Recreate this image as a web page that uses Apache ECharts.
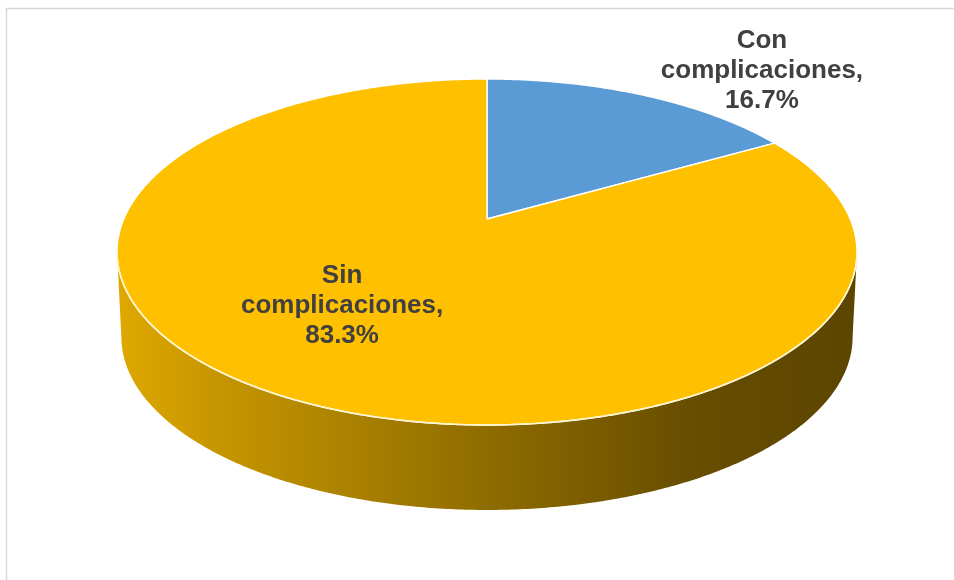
<!DOCTYPE html>
<html>
<head>
<meta charset="utf-8">
<script src="https://cdn.jsdelivr.net/npm/echarts@6/dist/echarts.min.js"></script>
<style>
  html, body { margin: 0; padding: 0; background: #ffffff; }
  #chart { width: 954px; height: 580px; }
</style>
</head>
<body>
<div id="chart"></div>
<script>
// Data
const categories = ['Con complicaciones', 'Sin complicaciones'];
const shares = [16.7, 83.3];
const sliceColors = ['#5B9BD5', '#FFC000'];

// Perspective view of the disc (pixels / unitless factors)
const view = {
  cx: 487, cy: 219,      // projected centre of the top face
  rx: 363.2, ry: 166.7,  // horizontal / depth radii
  tilt: 0.1907,          // perspective along the depth axis
  thickness: 85,         // height of the side wall
  shrink: 0.012          // narrowing of the bottom rim
};
// label anchors, in units of the radii, relative to the centre
const labelOffsets = [[0.757, -0.888], [-0.399, 0.522]];
const labelFont = { size: 26, lineHeight: 30, color: '#404040' };

function project(u, v, d) {
  const w = 1 + view.tilt * v;
  return [view.cx + view.rx * u / (w * (1 + view.shrink * d)), view.cy - view.ry * v / w + view.thickness * d];
}
function rim(phi, d) { return project(Math.sin(phi), Math.cos(phi), d); }
function arc(a, b, d) {
  const pts = [];
  const n = Math.max(2, Math.ceil(Math.abs(b - a) / (Math.PI / 360)));
  for (let i = 0; i <= n; i++) pts.push(rim(a + (b - a) * i / n, d));
  return pts;
}
// visible part of the side wall: between the horizontal extremes of the rim
const phiL = Math.acos(-view.tilt), phiR = 2 * Math.PI - phiL;

function shade(hex, f) {
  const n = parseInt(hex.slice(1), 16);
  const r = Math.round(((n >> 16) & 255) * f), g = Math.round(((n >> 8) & 255) * f), b = Math.round((n & 255) * f);
  return 'rgb(' + r + ',' + g + ',' + b + ')';
}

const total = shares.reduce((s, x) => s + x, 0);
const starts = [];
shares.reduce((acc, x, i) => { starts[i] = acc; return acc + x; }, 0);

function renderItem(params, api) {
  const i = params.dataIndex;
  const val = api.value(0);
  const a0 = starts[i] / total * 2 * Math.PI;
  const a1 = (starts[i] + val) / total * 2 * Math.PI;
  const color = sliceColors[i];
  const children = [];

  // side wall
  const sa = Math.max(a0, phiL), sb = Math.min(a1, phiR);
  if (sa < sb) {
    const top = arc(sa, sb, 0);
    const bottom = arc(sb, sa, 1);
    const left = project(-1, 0, 0)[0], right = project(1, 0, 0)[0];
    children.push({
      type: 'polygon', z2: 1,
      shape: { points: top.concat(bottom) },
      style: {
        fill: new echarts.graphic.LinearGradient(left - 10, 0, right + 10, 0, [
          { offset: 0, color: shade(color, 0.88) },
          { offset: 0.15, color: shade(color, 0.77) },
          { offset: 0.5, color: shade(color, 0.56) },
          { offset: 0.78, color: shade(color, 0.40) },
          { offset: 1, color: shade(color, 0.36) }
        ], true),
        stroke: null
      }
    });
    // light rim along the front edge of the top face
    children.push({
      type: 'polyline', z2: 3,
      shape: { points: top },
      style: { stroke: '#fff6d0', lineWidth: 1.6, fill: null }
    });
  }

  // top face
  const c = project(0, 0, 0);
  children.push({
    type: 'polygon', z2: 2,
    shape: { points: [c].concat(arc(a0, a1, 0)) },
    style: { fill: color, stroke: '#ffffff', lineWidth: 1.4, lineJoin: 'round' }
  });

  // label
  const pct = (val / total * 100).toFixed(1);
  const name = categories[i];
  const sp = name.indexOf(' ');
  const text = name.slice(0, sp) + '\n' + name.slice(sp + 1) + ',\n' + pct + '%';
  children.push({
    type: 'text', z2: 10,
    x: view.cx + labelOffsets[i][0] * view.rx,
    y: view.cy + labelOffsets[i][1] * view.ry,
    style: {
      text: text,
      fill: labelFont.color,
      font: 'bold ' + labelFont.size + 'px "Liberation Sans", Arial, sans-serif',
      lineHeight: labelFont.lineHeight,
      align: 'center',
      verticalAlign: 'middle'
    }
  });

  return { type: 'group', children: children };
}

const chart = echarts.init(document.getElementById('chart'), null, { renderer: 'canvas' });
chart.setOption({
  backgroundColor: '#ffffff',
  animation: false,
  graphic: [{
    type: 'rect', z: -10,
    shape: { x: 6.5, y: 8.5, width: 2000, height: 2000 },
    style: { fill: null, stroke: '#d9d9d9', lineWidth: 1.5 }
  }],
  series: [{
    type: 'custom',
    coordinateSystem: 'none',
    renderItem: renderItem,
    data: shares.map((v, i) => ({ name: categories[i], value: [v] }))
  }]
});
</script>
</body>
</html>
